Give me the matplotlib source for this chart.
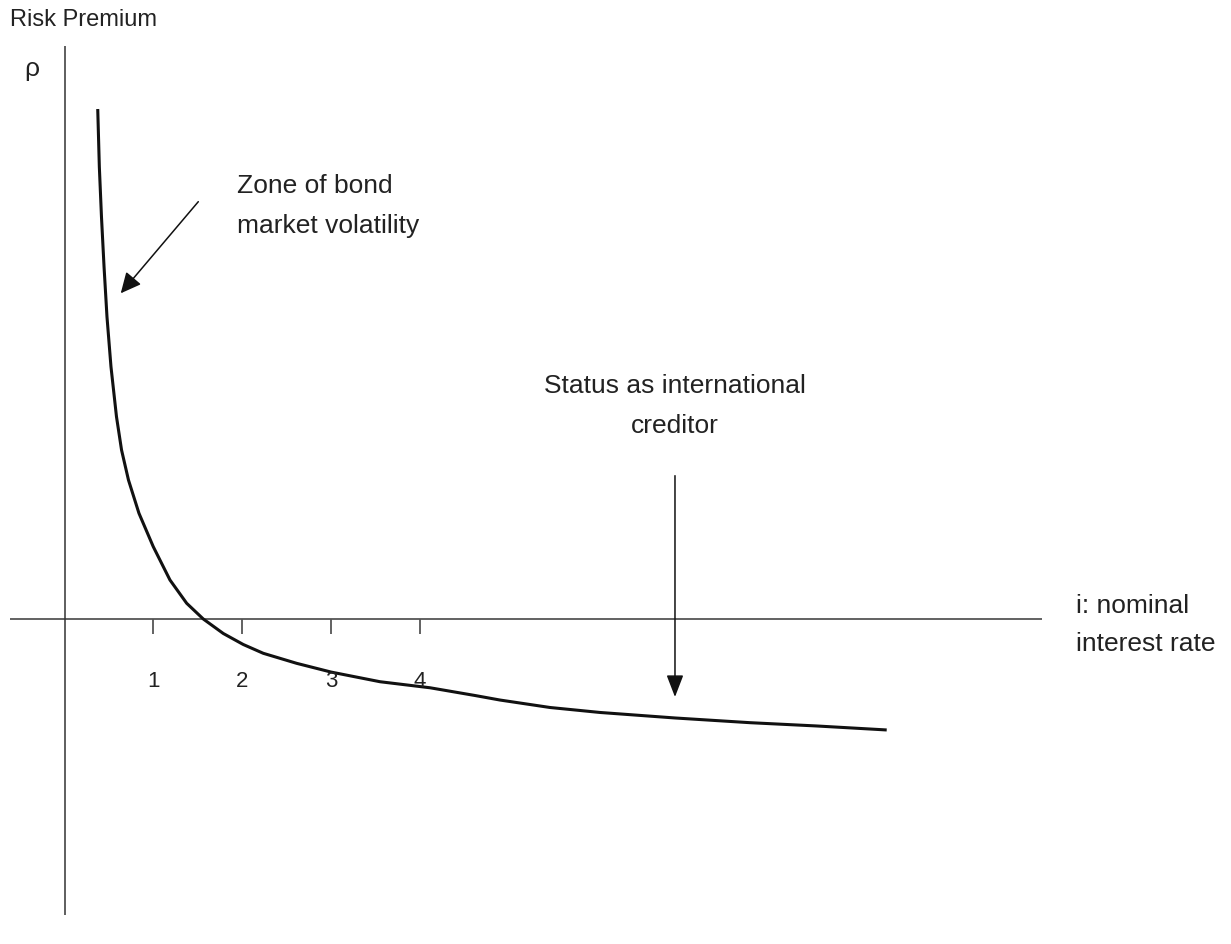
import matplotlib
matplotlib.use("Agg")
import matplotlib.pyplot as plt

plt.rcParams['font.family'] = ['Liberation Sans', 'DejaVu Sans']

# Risk premium curve (x: nominal interest rate units, y: risk premium units)
curve_x = [0.374, 0.392, 0.416, 0.445, 0.478, 0.523, 0.585, 0.642, 0.720, 0.838,
           0.999, 1.187, 1.375, 1.562, 1.787, 2.012, 2.237, 2.613, 2.999, 3.551,
           4.114, 4.620, 4.901, 5.464, 6.027, 6.871, 7.715, 8.466, 9.254]
curve_y = [5.740, 5.091, 4.528, 3.965, 3.402, 2.840, 2.277, 1.902, 1.564, 1.190,
           0.814, 0.439, 0.177, 0.000, -0.163, -0.287, -0.386, -0.499, -0.597, -0.706,
           -0.774, -0.861, -0.912, -0.996, -1.052, -1.114, -1.167, -1.204, -1.249]

tick_positions = [1, 2, 3, 4]
tick_labels = ["1", "2", "3", "4"]

x_axis_range = [-0.613, 11.0]
y_axis_range = [-3.331, 6.449]

fig = plt.figure(figsize=(12.31, 9.44), dpi=100)
ax = fig.add_axes([0, 0, 1, 1])
ax.set_xlim(-0.726, 13.129)
ax.set_ylim(-3.658, 6.967)
ax.axis('off')

axis_color = '#555555'
text_color = '#222222'

# axes lines
ax.plot(x_axis_range, [0, 0], color=axis_color, lw=1.3, solid_capstyle='butt')
ax.plot([0, 0], y_axis_range, color='#333333', lw=1.1, solid_capstyle='butt')

# ticks
for t, lab in zip(tick_positions, tick_labels):
    ax.plot([t, t], [0, -0.169], color=axis_color, lw=1.3, solid_capstyle='butt')
    ax.text(t, -0.762, lab, ha='center', va='baseline', fontsize=16, color=text_color)

# curve
ax.plot(curve_x, curve_y, color='#111111', lw=2.2, solid_joinstyle='round',
        solid_capstyle='butt')

# arrows
ax.annotate('', xy=(0.633, 3.666), xytext=(1.506, 4.697),
            arrowprops=dict(arrowstyle='-|>,head_length=1.25,head_width=0.6',
                            color='#111111', lw=1.1, shrinkA=0, shrinkB=0,
                            mutation_scale=10))
ax.annotate('', xy=(6.871, -0.878), xytext=(6.871, 1.613),
            arrowprops=dict(arrowstyle='-|>,head_length=1.35,head_width=0.52',
                            color='#111111', lw=1.1, shrinkA=0, shrinkB=0,
                            mutation_scale=10))

# texts
ax.text(-0.619, 6.674, "Risk Premium", ha='left', va='baseline', fontsize=17, color=text_color)
ax.text(-0.366, 6.117, "ρ", ha='center', va='baseline', fontsize=19, color=text_color)
ax.text(1.941, 4.791, "Zone of bond", ha='left', va='baseline', fontsize=19, color=text_color)
ax.text(1.941, 4.341, "market volatility", ha='left', va='baseline', fontsize=19, color=text_color)
ax.text(6.871, 2.540, "Status as international", ha='center', va='baseline', fontsize=19, color=text_color)
ax.text(6.871, 2.097, "creditor", ha='center', va='baseline', fontsize=19, color=text_color)
ax.text(11.384, 0.064, "i: nominal", ha='left', va='baseline', fontsize=19, color=text_color)
ax.text(11.384, -0.357, "interest rate", ha='left', va='baseline', fontsize=19, color=text_color)

fig.savefig("out.png", dpi=100, facecolor='white')
